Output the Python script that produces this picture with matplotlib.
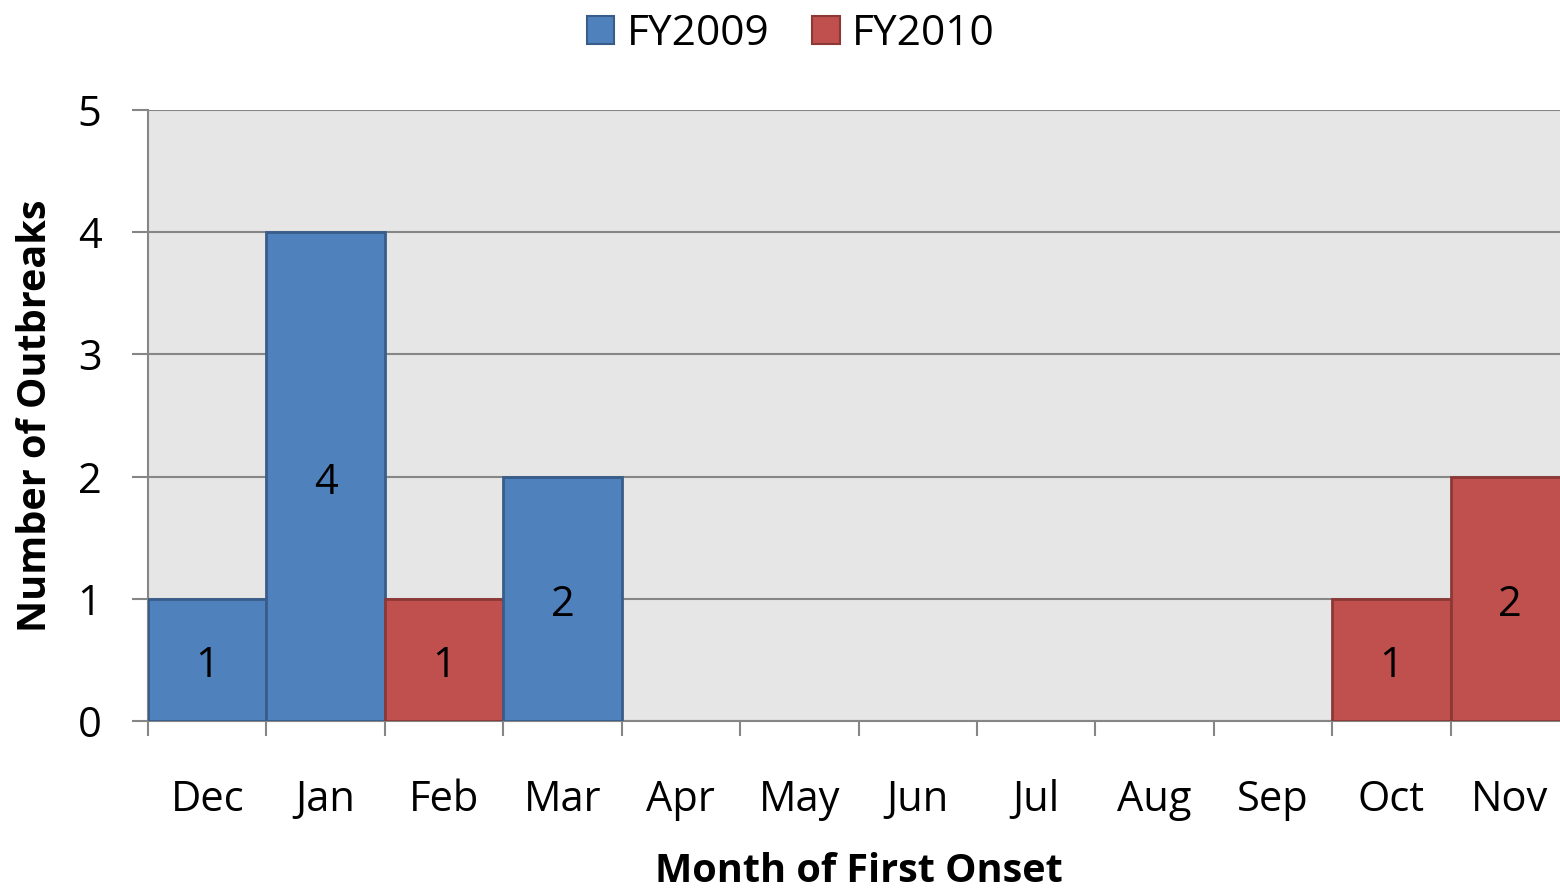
import numpy as np
import matplotlib.pyplot as plt
from matplotlib.patches import Patch

plt.rcParams['font.family'] = ['Open Sans', 'DejaVu Sans']

# Dados
meses = ["Dec", "Jan", "Feb", "Mar", "Apr", "May", "Jun", "Jul", "Aug", "Sep", "Oct", "Nov"]
fy2009 = [1, 4, 0, 2, 0, 0, 0, 0, 0, 0, 0, 0]
fy2010 = [0, 0, 1, 0, 0, 0, 0, 0, 0, 0, 1, 2]

azul, azul_borda = "#4F81BD", "#385D8A"
verm, verm_borda = "#C0504D", "#8C3836"
cinza = "#868686"

fig = plt.figure(figsize=(15.6, 8.96), dpi=100)
# a area do grafico passa um pouco da borda direita (como no original)
ax = fig.add_axes([148/1560, 175/896, 1421/1560, (721-110)/896])
ax.set_facecolor("#E6E6E6")

def rotulo(xpos, ypos, valor):
    ax.annotate(str(valor), (xpos, ypos), xytext=(0, -4.5), textcoords="offset points",
                ha="center", va="center", fontsize=30, zorder=4)

x = np.arange(len(meses))
for i in x:
    if fy2009[i] > 0:
        ax.bar(i, fy2009[i], width=1.0, color=azul, edgecolor=azul_borda, linewidth=2, zorder=3)
        rotulo(i, fy2009[i]/2, fy2009[i])
    if fy2010[i] > 0:
        ax.bar(i, fy2010[i], bottom=fy2009[i], width=1.0, color=verm, edgecolor=verm_borda, linewidth=2, zorder=3)
        rotulo(i, fy2009[i] + fy2010[i]/2, fy2010[i])

ax.set_xlim(-0.5, 11.5)
ax.set_ylim(0, 5)
ax.set_yticks(range(6))
ax.yaxis.grid(True, color=cinza, linewidth=1.5, zorder=1)
ax.set_axisbelow(True)

# ticks do eixo x nas fronteiras, rotulos no centro
ax.set_xticks(np.arange(-0.5, 12, 1.0))
ax.set_xticklabels([])
ax.set_xticks(x, minor=True)
ax.set_xticklabels(meses, minor=True, fontsize=30)
ax.tick_params(axis="x", which="minor", length=0, pad=42)
ax.tick_params(axis="x", which="major", length=11, width=1.5, color=cinza)
ax.tick_params(axis="y", length=11.5, width=1.5, color=cinza, labelsize=30, pad=22)

for s in ["top", "right"]:
    ax.spines[s].set_visible(False)
ax.spines["left"].set_color(cinza)
ax.spines["left"].set_linewidth(1.5)
ax.spines["bottom"].set_color(cinza)
ax.spines["bottom"].set_linewidth(1.5)

ax.set_xlabel("Month of First Onset", fontsize=28.5, fontweight="bold", labelpad=22)
ax.set_ylabel("Number of Outbreaks", fontsize=28.5, fontweight="bold", labelpad=16)

handles = [Patch(facecolor=azul, edgecolor=azul_borda, linewidth=1.5, label="FY2009"),
           Patch(facecolor=verm, edgecolor=verm_borda, linewidth=1.5, label="FY2010")]
fig.legend(handles=handles, loc="upper center", bbox_to_anchor=(0.507, 1.028), ncol=2,
           frameon=False, fontsize=30.5, handlelength=0.65, handleheight=0.65,
           handletextpad=0.3, columnspacing=1.0)

fig.savefig("out.png", dpi=100)
